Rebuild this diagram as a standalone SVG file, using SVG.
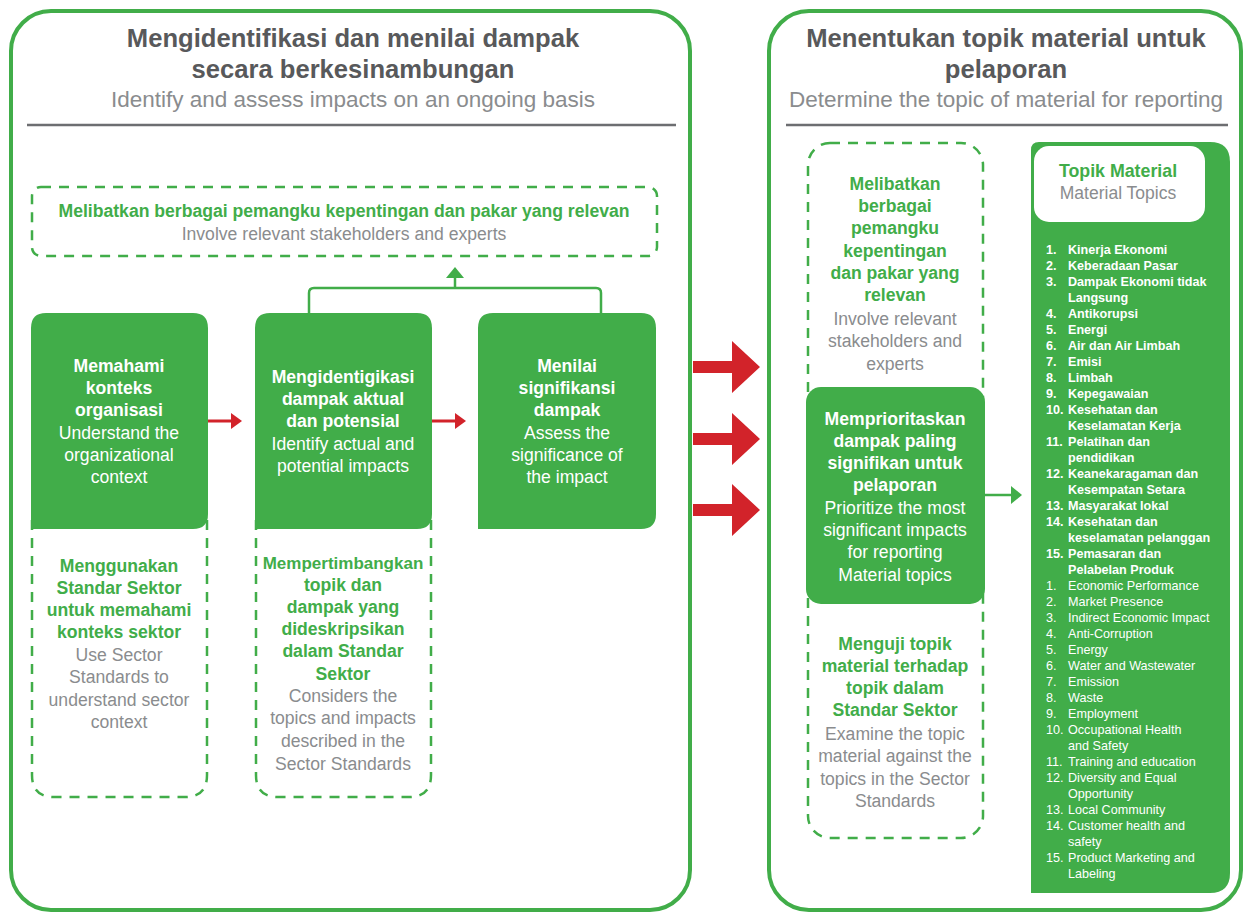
<svg xmlns="http://www.w3.org/2000/svg" width="1244" height="913" viewBox="0 0 1244 913">
<defs>
<style>
.panel{fill:#fff;stroke:#41ad49;stroke-width:4}
.sep{stroke:#6d6e71;stroke-width:2.5}
.dash{fill:none;stroke:#41ad49;stroke-width:2.5;stroke-dasharray:10 8}
.gbox{fill:#41ad49}
.t{font-family:"Liberation Sans",Arial,sans-serif;text-anchor:middle}
.h1{font-size:25.6px;font-weight:bold;fill:#58595b}
.h2{font-size:22.5px;fill:#8a8c8e}
.wb{font-size:17.6px;font-weight:bold;fill:#fff}
.wr{font-size:17.6px;fill:#fff}
.gb{font-size:17.6px;font-weight:bold;fill:#41ad49}
.gr{font-size:17.6px;fill:#8a8c8e}
.lb{font-family:"Liberation Sans",Arial,sans-serif;font-size:12.6px;font-weight:bold;fill:#fff}
.lr{font-family:"Liberation Sans",Arial,sans-serif;font-size:12.6px;fill:#fff}
.red{fill:#d2232a}
.conn{fill:none;stroke:#41ad49;stroke-width:2.5}
</style>
</defs>

<g id="panel-left">
<rect class="panel" x="11" y="11" width="679" height="899" rx="40"/>
<text class="t h1" x="353" y="47">Mengidentifikasi dan menilai dampak</text>
<text class="t h1" x="353" y="78">secara berkesinambungan</text>
<text class="t h2" x="353" y="107">Identify and assess impacts on an ongoing basis</text>
<line class="sep" x1="27" y1="125" x2="676" y2="125"/>
</g>

<g id="panel-right">
<rect class="panel" x="769" y="11" width="472" height="899" rx="40"/>
<text class="t h1" x="1006" y="47">Menentukan topik material untuk</text>
<text class="t h1" x="1006" y="78">pelaporan</text>
<text class="t h2" x="1006" y="107">Determine the topic of material for reporting</text>
<line class="sep" x1="786" y1="125" x2="1228" y2="125"/>
</g>

<g id="stakeholders-box">
<rect class="dash" x="32" y="187" width="625" height="69" rx="9"/>
<text class="t gb" x="344" y="217">Melibatkan berbagai pemangku kepentingan dan pakar yang relevan</text>
<text class="t gr" x="344" y="240">Involve relevant stakeholders and experts</text>
</g>

<g id="sector-box-1">
<path class="dash" d="M32,520 V775 Q32,797 54,797 H185 Q207,797 207,775 V520"/>
<text class="t gb" x="119" y="572">Menggunakan</text>
<text class="t gb" x="119" y="594">Standar Sektor</text>
<text class="t gb" x="119" y="616">untuk memahami</text>
<text class="t gb" x="119" y="638">konteks sektor</text>
<text class="t gr" x="119" y="661">Use Sector</text>
<text class="t gr" x="119" y="683">Standards to</text>
<text class="t gr" x="119" y="706">understand sector</text>
<text class="t gr" x="119" y="728">context</text>
</g>

<g id="sector-box-2">
<path class="dash" d="M256,520 V775 Q256,797 278,797 H409 Q431,797 431,775 V520"/>
<text class="t gb" x="343" y="569" style="font-size:17px">Mempertimbangkan</text>
<text class="t gb" x="343" y="591">topik dan</text>
<text class="t gb" x="343" y="613">dampak yang</text>
<text class="t gb" x="343" y="635">dideskripsikan</text>
<text class="t gb" x="343" y="657">dalam Standar</text>
<text class="t gb" x="343" y="680">Sektor</text>
<text class="t gr" x="343" y="702">Considers the</text>
<text class="t gr" x="343" y="724">topics and impacts</text>
<text class="t gr" x="343" y="747">described in the</text>
<text class="t gr" x="343" y="770">Sector Standards</text>
</g>

<g id="connectors">
<path class="conn" d="M309,313 V293 Q309,288 314,288 H596 Q601,288 601,293 V313"/>
<line class="conn" x1="455" y1="288" x2="455" y2="276"/>
<polygon fill="#41ad49" points="446,278 455,267 464,278"/>
<rect class="red" x="208" y="419.5" width="26" height="3"/>
<polygon class="red" points="231,413 242,421 231,429"/>
<rect class="red" x="432" y="419.5" width="26" height="3"/>
<polygon class="red" points="455,413 466,421 455,429"/>
<polygon class="red" points="693,361 732,361 732,341 760,367 732,393 732,373 693,373"/>
<polygon class="red" points="693,433 732,433 732,413 760,439 732,465 732,445 693,445"/>
<polygon class="red" points="693,504 732,504 732,484 760,510 732,536 732,516 693,516"/>
<line class="conn" x1="985" y1="495" x2="1013" y2="495"/>
<polygon fill="#41ad49" points="1011,486 1022,495 1011,504"/>
</g>

<g id="box-understand">
<path class="gbox" d="M31,328 Q31,313 46,313 H193 Q208,313 208,328 V514 Q208,529 193,529 H31 Z"/>
<text class="t wb" x="119" y="372">Memahami</text>
<text class="t wb" x="119" y="394">konteks</text>
<text class="t wb" x="119" y="416">organisasi</text>
<text class="t wr" x="119" y="439">Understand the</text>
<text class="t wr" x="119" y="461">organizational</text>
<text class="t wr" x="119" y="483">context</text>
</g>

<g id="box-identify">
<path class="gbox" d="M255,328 Q255,313 270,313 H417 Q432,313 432,328 V514 Q432,529 417,529 H255 Z"/>
<text class="t wb" x="343" y="383">Mengidentigikasi</text>
<text class="t wb" x="343" y="405">dampak aktual</text>
<text class="t wb" x="343" y="427">dan potensial</text>
<text class="t wr" x="343" y="450">Identify actual and</text>
<text class="t wr" x="343" y="472">potential impacts</text>
</g>

<g id="box-assess">
<path class="gbox" d="M478,328 Q478,313 493,313 H641 Q656,313 656,328 V514 Q656,529 641,529 H478 Z"/>
<text class="t wb" x="567" y="372">Menilai</text>
<text class="t wb" x="567" y="394">signifikansi</text>
<text class="t wb" x="567" y="416">dampak</text>
<text class="t wr" x="567" y="439">Assess the</text>
<text class="t wr" x="567" y="461">significance of</text>
<text class="t wr" x="567" y="483">the impact</text>
</g>

<g id="right-column">
<rect class="dash" x="808" y="143" width="175" height="695" rx="22"/>
<text class="t gb" x="895" y="190">Melibatkan</text>
<text class="t gb" x="895" y="212">berbagai</text>
<text class="t gb" x="895" y="234">pemangku</text>
<text class="t gb" x="895" y="257">kepentingan</text>
<text class="t gb" x="895" y="279">dan pakar yang</text>
<text class="t gb" x="895" y="301">relevan</text>
<text class="t gr" x="895" y="325">Involve relevant</text>
<text class="t gr" x="895" y="347">stakeholders and</text>
<text class="t gr" x="895" y="370">experts</text>
<text class="t gb" x="895" y="650">Menguji topik</text>
<text class="t gb" x="895" y="672">material terhadap</text>
<text class="t gb" x="895" y="694">topik dalam</text>
<text class="t gb" x="895" y="716">Standar Sektor</text>
<text class="t gr" x="895" y="740">Examine the topic</text>
<text class="t gr" x="895" y="762">material against the</text>
<text class="t gr" x="895" y="785">topics in the Sector</text>
<text class="t gr" x="895" y="807">Standards</text>
</g>

<g id="box-prioritize">
<rect class="gbox" x="806" y="387" width="179" height="217" rx="15"/>
<text class="t wb" x="895" y="425">Memprioritaskan</text>
<text class="t wb" x="895" y="447">dampak paling</text>
<text class="t wb" x="895" y="469">signifikan untuk</text>
<text class="t wb" x="895" y="491">pelaporan</text>
<text class="t wr" x="895" y="514">Prioritize the most</text>
<text class="t wr" x="895" y="536">significant impacts</text>
<text class="t wr" x="895" y="558">for reporting</text>
<text class="t wr" x="895" y="581">Material topics</text>
</g>

<g id="material-topics">
<path class="gbox" d="M1031,150 Q1031,142 1039,142 H1210 Q1230,142 1230,162 V873 Q1230,893 1210,893 H1031 Z"/>
<rect fill="#fff" x="1034" y="146" width="171" height="76" rx="15"/>
<text class="t" x="1118" y="177" style="font-size:17.8px;font-weight:bold;fill:#41ad49">Topik Material</text>
<text class="t" x="1118" y="199" style="font-size:17.5px;fill:#8a8c8e">Material Topics</text>
<g class="lb">
<text x="1046" y="254">1.</text><text x="1068" y="254">Kinerja Ekonomi</text>
<text x="1046" y="270">2.</text><text x="1068" y="270">Keberadaan Pasar</text>
<text x="1046" y="286">3.</text><text x="1068" y="286">Dampak Ekonomi tidak</text>
<text x="1068" y="302">Langsung</text>
<text x="1046" y="318">4.</text><text x="1068" y="318">Antikorupsi</text>
<text x="1046" y="334">5.</text><text x="1068" y="334">Energi</text>
<text x="1046" y="350">6.</text><text x="1068" y="350">Air dan Air Limbah</text>
<text x="1046" y="366">7.</text><text x="1068" y="366">Emisi</text>
<text x="1046" y="382">8.</text><text x="1068" y="382">Limbah</text>
<text x="1046" y="398">9.</text><text x="1068" y="398">Kepegawaian</text>
<text x="1046" y="414">10.</text><text x="1068" y="414">Kesehatan dan</text>
<text x="1068" y="430">Keselamatan Kerja</text>
<text x="1046" y="446">11.</text><text x="1068" y="446">Pelatihan dan</text>
<text x="1068" y="462">pendidikan</text>
<text x="1046" y="478">12.</text><text x="1068" y="478">Keanekaragaman dan</text>
<text x="1068" y="494">Kesempatan Setara</text>
<text x="1046" y="510">13.</text><text x="1068" y="510">Masyarakat lokal</text>
<text x="1046" y="526">14.</text><text x="1068" y="526">Kesehatan dan</text>
<text x="1068" y="542">keselamatan pelanggan</text>
<text x="1046" y="558">15.</text><text x="1068" y="558">Pemasaran dan</text>
<text x="1068" y="574">Pelabelan Produk</text>
</g>
<g class="lr">
<text x="1046" y="590">1.</text><text x="1068" y="590">Economic Performance</text>
<text x="1046" y="606">2.</text><text x="1068" y="606">Market Presence</text>
<text x="1046" y="622">3.</text><text x="1068" y="622">Indirect Economic Impact</text>
<text x="1046" y="638">4.</text><text x="1068" y="638">Anti-Corruption</text>
<text x="1046" y="654">5.</text><text x="1068" y="654">Energy</text>
<text x="1046" y="670">6.</text><text x="1068" y="670">Water and Wastewater</text>
<text x="1046" y="686">7.</text><text x="1068" y="686">Emission</text>
<text x="1046" y="702">8.</text><text x="1068" y="702">Waste</text>
<text x="1046" y="718">9.</text><text x="1068" y="718">Employment</text>
<text x="1046" y="734">10.</text><text x="1068" y="734">Occupational Health</text>
<text x="1068" y="750">and Safety</text>
<text x="1046" y="766">11.</text><text x="1068" y="766">Training and education</text>
<text x="1046" y="782">12.</text><text x="1068" y="782">Diversity and Equal</text>
<text x="1068" y="798">Opportunity</text>
<text x="1046" y="814">13.</text><text x="1068" y="814">Local Community</text>
<text x="1046" y="830">14.</text><text x="1068" y="830">Customer health and</text>
<text x="1068" y="846">safety</text>
<text x="1046" y="862">15.</text><text x="1068" y="862">Product Marketing and</text>
<text x="1068" y="878">Labeling</text>
</g>
</g>
</svg>
